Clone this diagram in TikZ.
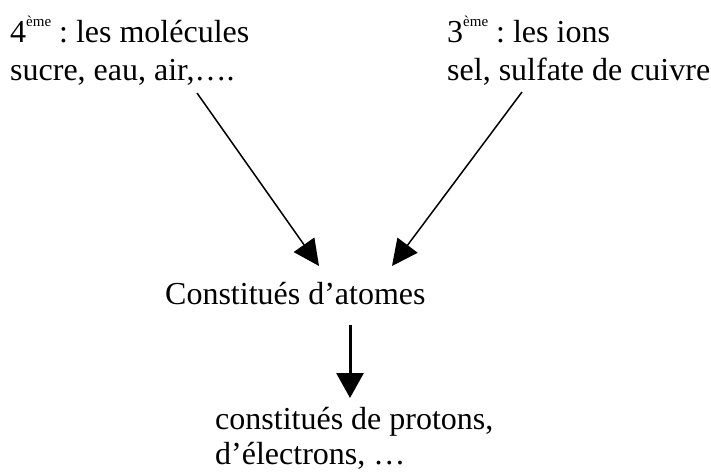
\documentclass[tikz,border=0pt]{standalone}
\usepackage{fontspec}
\setmainfont{Liberation Serif}
\usepackage{tikz}
\usetikzlibrary{arrows.meta,positioning,calc}

\newcommand{\eme}{\raisebox{16pt}{\fontsize{15}{15}\selectfont ème}}
\frenchspacing

\begin{document}
\begin{tikzpicture}[
    x=1pt, y=1pt,
    texte/.style={inner sep=0pt, anchor=base west, align=left, font=\fontsize{32}{38}\selectfont},
    fleche/.style={-{Triangle[length=26pt,width=25pt]}, line width=1.5pt},
    grosse/.style={-{Triangle[length=25pt,width=27pt]}, line width=3pt}
]
    \useasboundingbox (0,0) rectangle (711,471);

    % base = last line
    \node[texte] (mol) at (10,390) {4\eme{} : les molécules\\sucre, eau, air,\ldots.};
    \node[texte] (ions) at (447,390) {3\eme{} : les ions\\sel, sulfate de cuivre};
    \node[texte] (atomes) at (165,166) {Constitués d’atomes};
    \node[texte] (protons) at (215,7) {constitués de protons,\\[-3pt]d’électrons, \ldots};

    \draw[fleche] ($(mol.base west)+(187,-12)$) -- ($(atomes.base west)+(154,39)$);
    \draw[fleche] ($(ions.base west)+(75,-11)$) -- ($(atomes.base west)+(227,39)$);
    \draw[grosse] ($(atomes.base west)+(185,-20)$) -- ($(protons.base west)+(135,66)$);
\end{tikzpicture}
\end{document}
